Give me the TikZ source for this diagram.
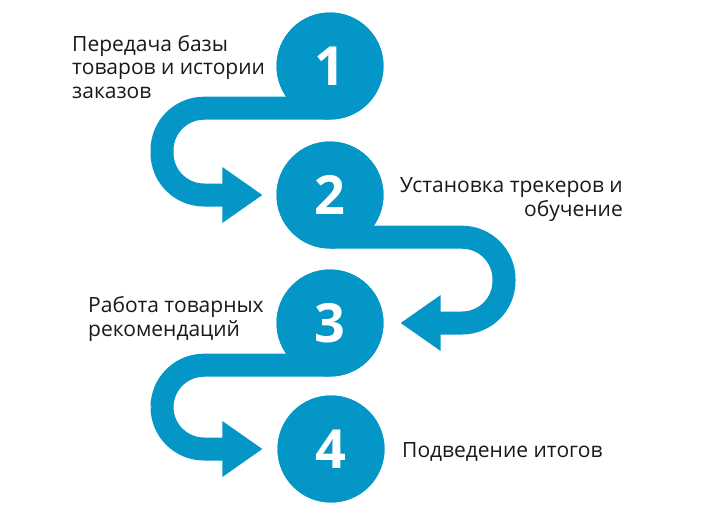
\documentclass[tikz,border=0pt]{standalone}
\usepackage{fontspec}
\setmainfont{Open Sans}
\definecolor{stepblue}{RGB}{3,150,198}
\definecolor{txtgray}{RGB}{25,25,25}
\begin{document}
\begin{tikzpicture}[
    x=1pt, y=1pt,
    num/.style={circle, fill=stepblue, minimum size=107pt, inner sep=0pt, text=white, font=\fontsize{54}{54}\selectfont\bfseries},
    band/.style={draw=stepblue, line width=23pt, rounded corners=42pt},
    head/.style={fill=stepblue},
    label/.style={inner sep=0pt, text=txtgray, font=\fontsize{21}{23.5}\selectfont}
]
    \useasboundingbox (0,0) rectangle (707,-517);

    % steps
    \node[num] (s1) at (330,-66) {1};
    \node[num] (s2) at (330,-195) {2};
    \node[num] (s3) at (330,-323) {3};
    \node[num] (s4) at (331,-449) {4};

    % arrow tips and bases
    \coordinate (a2) at ([xshift=-14pt]s2.west);
    \coordinate (b2) at ([xshift=-40pt]a2);
    \coordinate (a3) at ([xshift=17pt]s3.east);
    \coordinate (b3) at ([xshift=40pt]a3);
    \coordinate (a4) at ([xshift=-15pt]s4.west);
    \coordinate (b4) at ([xshift=-40pt]a4);

    % bands
    \draw[band] ([yshift=11.5pt]s1.south) -- ++(-168pt,0) |- ([xshift=4pt]b2);
    \draw[band] ([yshift=11.5pt]s2.south) -- ++(174pt,0) |- ([xshift=-4pt]b3);
    \draw[band] ([yshift=11.5pt]s3.south) -- ++(-168pt,0) |- ([xshift=4pt]b4);
    \fill[head] (a2) -- ([yshift=28pt]b2) -- ([yshift=-28pt]b2) -- cycle;
    \fill[head] (a3) -- ([yshift=28pt]b3) -- ([yshift=-28pt]b3) -- cycle;
    \fill[head] (a4) -- ([yshift=28pt]b4) -- ([yshift=-28pt]b4) -- cycle;

    % circles on top
    \node[num] at (s1) {1};
    \node[num] at (s2) {2};
    \node[num] at (s3) {3};
    \node[num] at (s4) {4};

    % texts
    \node[label, align=left, anchor=base west] (t1) at (72,-98) {Передача базы\\товаров и истории\\заказов};
    \node[label, align=right, anchor=base east] (t2) at (623,-216) {Установка трекеров и\\обучение};
    \node[label, align=left, anchor=base west] (t3) at (88,-336) {Работа товарных\\рекомендаций};
    \node[label, anchor=base west] (t4) at (402,-457) {Подведение итогов};
\end{tikzpicture}
\end{document}
